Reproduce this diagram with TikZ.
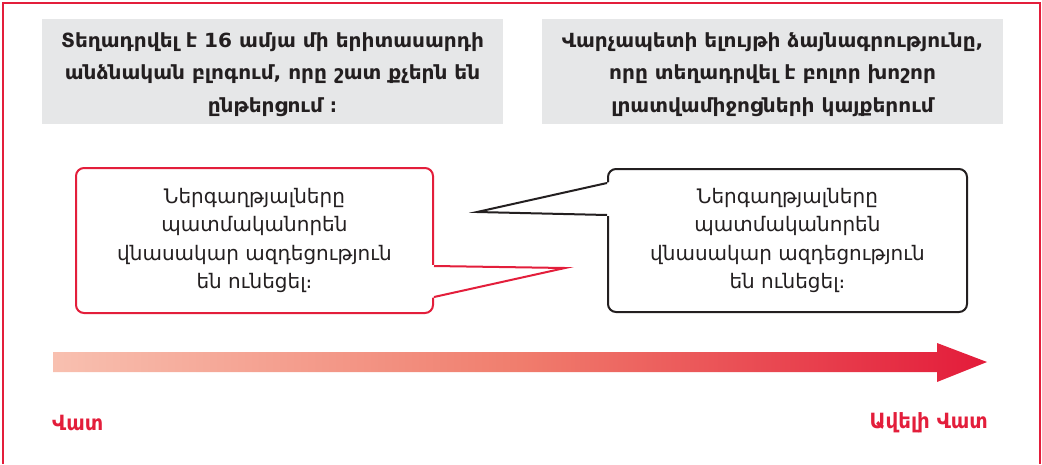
\documentclass[tikz,border=0pt]{standalone}
\usepackage{fontspec}
\newfontfamily\arm{DejaVu Sans}
\newfontfamily\armb[FakeStretch=1.03]{DejaVu Sans}
\newfontfamily\armc[FakeStretch=0.94]{DejaVu Sans}
\definecolor{frameRed}{HTML}{E31E3B}
\definecolor{boxGray}{HTML}{E6E7E8}
\definecolor{inkDark}{HTML}{231F20}
\definecolor{gradLight}{HTML}{F8C0B0}
\definecolor{gradMid}{HTML}{F07D6D}
\definecolor{gradDark}{HTML}{E31B3A}
\pgfdeclarehorizontalshading{armgrad}{100bp}{color(0bp)=(gradLight); color(25bp)=(gradLight); color(50bp)=(gradMid); color(75bp)=(gradDark); color(100bp)=(gradDark)}
\tikzset{
  graybox/.style={fill=boxGray, draw=none, inner sep=0pt, minimum width=461pt, minimum height=105pt},
  graytext/.style={inner sep=0pt, align=center,
    font=\armb\bfseries\fontsize{19.5}{32.5}\selectfont, text=inkDark},
  callbox/.style={fill=white, line width=2pt, rounded corners=8pt, inner sep=0pt,
    align=center, font=\arm\fontsize{20}{28.5}\selectfont, text=inkDark},
  redbox/.style={callbox, draw=frameRed},
  blackbox/.style={callbox, draw=inkDark},
  scalelabel/.style={font=\armc\bfseries\fontsize{21}{24}\selectfont, text=frameRed, inner sep=0pt},
}
\begin{document}
\begin{tikzpicture}[x=1pt,y=-1pt]
\useasboundingbox (0,0) rectangle (1042,464);
% frame
\draw[frameRed, line width=1.5pt] (3,464) -- (3,3) -- (1040,3) -- (1040,464);
% gray boxes
\node[graybox] (g1) at (272.5,71.5) {};
\node[graytext] (t1) at ([yshift=-3pt]g1.center)
  {Տեղադրվել է 16 ամյա մի երիտասարդի\\անձնական բլոգում, որը շատ քչերն են\\ընթերցում ։};
\node[graybox] (g2) at (772.5,71.5) {};
\node[graytext] (t2) at ([yshift=-3pt]g2.center)
  {Վարչապետի ելույթի ձայնագրությունը,\\որը տեղադրվել է բոլոր խոշոր\\լրատվամիջոցների կայքերում};
% callouts
\node[redbox, minimum width=357pt, minimum height=145pt] (cl) at (254.5,240.5)
  {Ներգաղթյալները\\պատմականորեն\\վնասակար ազդեցություն\\են ունեցել։};
\node[blackbox, minimum width=359pt, minimum height=143pt] (cr) at (787.5,240.5)
  {Ներգաղթյալները\\պատմականորեն\\վնասակար ազդեցություն\\են ունեցել։};
% tails
\coordinate (tl) at (565,268);
\coordinate (tr) at (477,212);
\fill[white] (cl.east |- 0,265) ++(-3,0) -- (tl) -- ([xshift=-3pt]cl.east |- 0,298) -- cycle;
\draw[frameRed, line width=2pt, line join=miter] (cl.east |- 0,266) -- (tl) -- (cl.east |- 0,297);
\fill[white] ([xshift=3pt]cr.west |- 0,182) -- (tr) -- ([xshift=3pt]cr.west |- 0,216) -- cycle;
\draw[inkDark, line width=2pt, line join=miter] (cr.west |- 0,183) -- (tr) -- (cr.west |- 0,215);
% gradient arrow
\shade[shading=armgrad]
  (53,352) -- (937,352) -- (937,343) -- (987,362) -- (937,382) -- (937,372) -- (53,372) -- cycle;
% labels
\node[scalelabel, anchor=west] (bad) at (52,423) {Վատ};
\node[scalelabel, anchor=east] (worse) at (988,423) {Ավելի Վատ};
\end{tikzpicture}
\end{document}
